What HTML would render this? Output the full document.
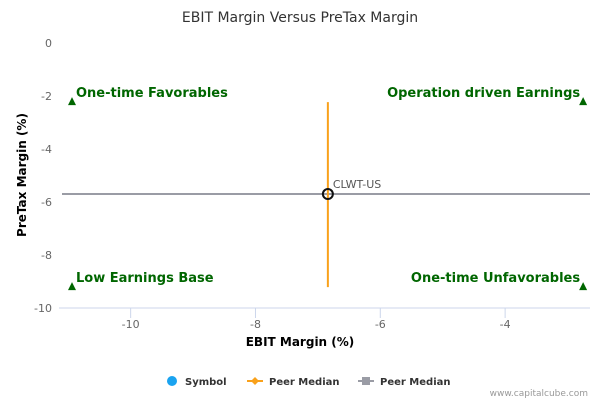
<!DOCTYPE html>
<html><head><meta charset="utf-8"><style>
body{margin:0;background:#fff;font-family:"Liberation Sans","DejaVu Sans",sans-serif}
svg text{font-family:"DejaVu Sans","Liberation Sans",sans-serif}
</style></head><body>
<svg id="chart" width="600" height="400" viewBox="0 0 600 400">
<text x="300" y="22" text-anchor="middle" font-size="14" fill="#333">EBIT Margin Versus PreTax Margin</text>
<g id="axes"></g>
<g id="marks"></g>
<text x="300" y="346" text-anchor="middle" font-size="12" font-weight="bold" fill="#000">EBIT Margin (%)</text>
<text transform="translate(26,175) rotate(-90)" text-anchor="middle" font-size="12" font-weight="bold" fill="#000">PreTax Margin (%)</text>
<g>
<g><circle cx="172" cy="381" r="5" fill="#1aa3f0"/><text x="185" y="385" font-size="10" font-weight="bold" fill="#333">Symbol</text></g>
<g><line x1="247" y1="381" x2="263" y2="381" stroke="#f9a11b" stroke-width="2"/><path d="M255 377 L259 381 L255 385 L251 381Z" fill="#f9a11b"/><text x="269" y="385" font-size="10" font-weight="bold" fill="#333">Peer Median</text></g>
<g><line x1="358" y1="381" x2="374" y2="381" stroke="#9a9ca5" stroke-width="2"/><rect x="362" y="377" width="8" height="8" fill="#9a9ca5"/><text x="380" y="385" font-size="10" font-weight="bold" fill="#333">Peer Median</text></g>
</g>
<text x="588" y="396" text-anchor="end" font-size="9" fill="#999">www.capitalcube.com</text>
</svg>
<script>
const xTicks=[-10,-8,-6,-4];
const yTicks=[0,-2,-4,-6,-8,-10];
const symbolPoint=[-6.84,-5.7];
const symbolLabel="CLWT-US";
const peerEbitMedian=[-6.84];
const peerEbitRange=[-2.23,-9.21];
const peerPretaxMedian=[-5.7];
const peerPretaxRange=[-11.1,-2.64];
const quadrantLabels=["One-time Favorables","Operation driven Earnings","Low Earnings Base","One-time Unfavorables"];
const quadrantX=[-10.94,-2.75,-10.94,-2.75];
const quadrantY=[-2.23,-2.23,-9.21,-9.21];
const xMin=-11.1,xMax=-2.64,yMin=-10,yMax=0;
const L=62,R=590,T=43,B=308;
const sx=v=>L+(v-xMin)/(xMax-xMin)*(R-L);
const sy=v=>B-(v-yMin)/(yMax-yMin)*(B-T);
const NS="http://www.w3.org/2000/svg";
function mk(tag,attrs,parent,text){const e=document.createElementNS(NS,tag);for(const k in attrs)e.setAttribute(k,attrs[k]);if(text!==undefined)e.textContent=text;parent.appendChild(e);return e;}
const axes=document.getElementById('axes'),marks=document.getElementById('marks');
let ax=mk('line',{x1:L-3,y1:B,x2:R,y2:B,stroke:'#ccd6eb','stroke-width':1},axes);


xTicks.forEach(v=>{
 let t=mk('line',{x1:sx(v),y1:B,x2:sx(v),y2:B+10,stroke:'#ccd6eb'},axes);
 
 
 let l=mk('text',{x:sx(v),y:B+20,'text-anchor':'middle','font-size':11,fill:'#666'},axes,String(v));
 
 
});
yTicks.forEach(v=>{
 let l=mk('text',{x:52,y:sy(v)+4,'text-anchor':'end','font-size':11,fill:'#666'},axes,String(v));
 
 
});
let h=mk('line',{x1:sx(peerPretaxRange[0]),y1:sy(peerPretaxMedian[0]),x2:sx(peerPretaxRange[1]),y2:sy(peerPretaxMedian[0]),stroke:'#9a9ca5','stroke-width':2},marks);


let vl=mk('line',{x1:sx(peerEbitMedian[0]),y1:sy(peerEbitRange[0]),x2:sx(peerEbitMedian[0]),y2:sy(peerEbitRange[1]),stroke:'#f9a11b','stroke-width':2},marks);


quadrantLabels.forEach((s,i)=>{
 const x=sx(quadrantX[i]),y=sy(quadrantY[i]);
 let tr=mk('path',{d:`M${x} ${y-5} L${x+4} ${y+3} L${x-4} ${y+3}Z`,fill:'#006600'},marks);
 
 
 const left=i%2===0;
 let t=mk('text',{x:left?x+4:x-3,y:y-5,'text-anchor':left?'start':'end','font-size':13,'font-weight':'bold',fill:'#006600'},marks,s);
 
 
});
let c=mk('circle',{cx:sx(symbolPoint[0]),cy:sy(symbolPoint[1]),r:5,fill:'none',stroke:'#111','stroke-width':2},marks);


let sl=mk('text',{x:sx(symbolPoint[0])+5,y:sy(symbolPoint[1])-6,'font-size':11,fill:'#555'},marks,symbolLabel);


</script>
</body></html>
